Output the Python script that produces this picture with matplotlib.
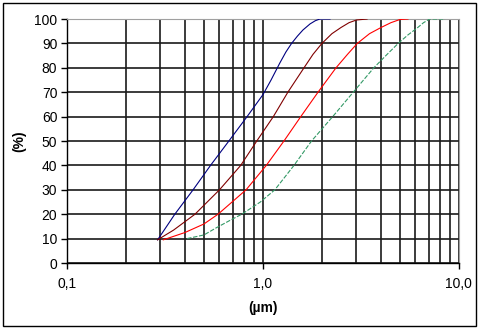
import matplotlib
matplotlib.use("Agg")
import matplotlib.pyplot as plt
from matplotlib.patches import Rectangle
from matplotlib.ticker import FixedLocator, NullFormatter

plt.rcParams['font.family'] = ['Liberation Sans', 'DejaVu Sans']

# particle size distributions (cumulative %, size in um)
blue_x = [0.29, 0.355, 0.44, 0.54, 0.67, 0.83, 1.0, 1.1, 1.22, 1.31, 1.4, 1.5, 1.6, 1.74, 1.85, 1.95, 2.2]
blue_y = [9.5, 20, 30, 40, 50, 60, 69, 75, 82, 86.5, 90, 93, 95.5, 98, 99.3, 100, 100]

brown_x = [0.29, 0.35, 0.45, 0.6, 0.77, 0.93, 1.13, 1.34, 1.62, 1.8, 2.0, 2.25, 2.5, 2.75, 3.0, 3.4]
brown_y = [9.5, 13.5, 20, 30, 40, 50, 60, 70, 80, 85.5, 90, 94, 96.5, 98.5, 99.6, 100]

red_x = [0.31, 0.4, 0.5, 0.59, 0.82, 1.04, 1.28, 1.56, 1.91, 2.36, 2.7, 3.03, 3.5, 4.0, 4.5, 5.0, 5.5]
red_y = [9.5, 12.5, 16, 20, 30, 40, 50, 60, 70, 80, 85.5, 90, 94, 96.5, 98.5, 99.8, 100]

green_x = [0.41, 0.5, 0.58, 0.68, 0.78, 0.97, 1.15, 1.44, 1.77, 2.27, 2.89, 3.68, 4.3, 4.9, 5.5, 6.1, 6.6, 7.1, 8.5]
green_y = [10, 11.5, 14.5, 17.5, 20, 25, 30, 40, 50, 60, 70, 80, 85.5, 90, 93.5, 96.2, 98.5, 100, 100]

x_ticks = [0.1, 1.0, 10.0]
x_labels = ['0,1', '1,0', '10,0']
y_ticks = list(range(0, 101, 10))

fig = plt.figure(figsize=(4.8, 3.29), dpi=100)
ax = fig.add_axes([0.1396, 0.2006, 0.956 - 0.1396, 0.9422 - 0.2006])

ax.set_xscale('log')
ax.set_xlim(0.1, 10)
ax.set_ylim(0, 100)

ax.xaxis.set_major_locator(FixedLocator(x_ticks))
ax.set_xticklabels(x_labels)
ax.xaxis.set_minor_locator(FixedLocator([m * d for d in (0.1, 1.0) for m in range(2, 10)]))
ax.xaxis.set_minor_formatter(NullFormatter())
ax.set_yticks(y_ticks)

ax.grid(True, which='both', axis='x', color='#1a1a1a', lw=1.2)
ax.grid(True, which='major', axis='y', color='#1a1a1a', lw=1.2)
ax.set_axisbelow(True)

ax.tick_params(axis='x', which='minor', length=0)
ax.tick_params(axis='both', which='major', direction='out', length=4, width=1,
               labelsize=10, colors='black')
ax.tick_params(axis='x', which='major', pad=6)
ax.tick_params(axis='y', which='major', pad=3)

for side in ('top', 'right'):
    ax.spines[side].set_color('#a0a0a0')
for side in ('left', 'bottom'):
    ax.spines[side].set_color('black')
    ax.spines[side].set_linewidth(1)

ax.plot(blue_x, blue_y, color='#000080', lw=0.8, zorder=3)
ax.plot(brown_x, brown_y, color='#800000', lw=0.8, zorder=3)
ax.plot(red_x, red_y, color='#ff0000', lw=0.8, zorder=3)
ax.plot(green_x, green_y, color='#339966', lw=0.8, dashes=(4, 1.5), zorder=3)

ax.set_ylabel('(%)', fontsize=10, fontweight='bold', labelpad=6)
ax.set_xlabel('(µm)', fontsize=10, fontweight='bold', labelpad=7)

fig.patches.append(Rectangle((3 / 480, 3 / 329), 473 / 480, 323 / 329,
                             transform=fig.transFigure, fill=False,
                             edgecolor='black', lw=1))

fig.savefig('out.png', dpi=100)
